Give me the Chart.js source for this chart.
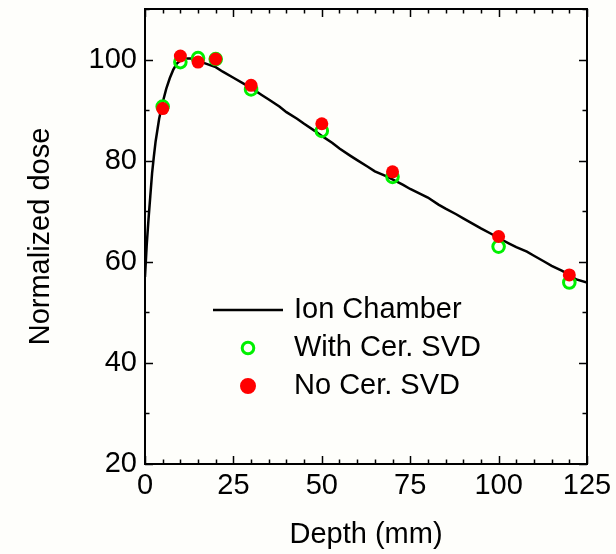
<!DOCTYPE html>
<html>
<head>
<meta charset="utf-8">
<script src="https://cdn.jsdelivr.net/npm/chart.js@4/dist/chart.umd.min.js"></script>
<style>
    html, body { margin: 0; padding: 0; background: #fefefb; }
    .dose-chart { position: relative; width: 616px; height: 554px; }
</style>
</head>
<body>
<div class="dose-chart"><canvas id="myChart" width="616" height="554"></canvas></div>
<script>
'use strict'

// ion chamber depth dose curve
const chamberDepth = [0, 0.5, 1, 1.5, 2, 2.5, 3, 4, 5, 6, 7, 8, 9, 10, 11, 12, 13, 14, 15, 16, 18, 20, 22, 25,
    28, 30, 33, 35, 38, 40, 43, 45, 48, 50, 53, 55, 58, 60, 63, 65, 68, 70, 73, 75, 78, 80, 83, 85, 88, 90,
    93, 95, 98, 100, 103, 105, 108, 110, 113, 115, 118, 120, 122, 125]
const chamberDose = [57.0, 63.5, 68.5, 73.0, 77.5, 80.8, 83.8, 88.3, 91.5, 94.2, 96.3, 98.0, 99.2, 99.8, 100.1, 100.2, 100.2, 100.0, 99.8, 99.5, 99.0, 98.5, 97.6, 96.4,
    95.2, 94.4, 93.0, 92.1, 90.7, 89.6, 88.3, 87.3, 85.9, 84.9, 83.5, 82.4, 81.0, 80.1, 78.8, 77.9, 77.0, 76.3, 75.2, 74.4, 73.4, 72.7, 71.3, 70.5, 69.4, 68.6,
    67.4, 66.6, 65.5, 64.7, 63.6, 62.9, 62.0, 61.2, 60.0, 59.2, 58.2, 57.4, 56.5, 55.9]

// detector points
const svdDepth = [5, 10, 15, 20, 30, 50, 70, 100, 120]
const withCerDose = [90.7, 99.5, 100.3, 100.1, 94.1, 85.9, 76.8, 63.0, 55.9]
const noCerDose = [90.3, 100.7, 99.5, 100.1, 94.9, 87.3, 77.8, 65.0, 57.4]

const seriesNames = ['Ion Chamber', 'With Cer. SVD', 'No Cer. SVD']
const xTicks = [0, 25, 50, 75, 100, 125]
const yTicks = [20, 40, 60, 80, 100]

const FONT = 'Liberation Sans, Arial, Helvetica, sans-serif'


document.addEventListener("DOMContentLoaded", () => {
    Diagramm()
})


function toPoints(xs, ys) {
    return xs.map((x, i) => ({ x: x, y: ys[i] }))
}

// frame with inward ticks on all four sides
const framePlugin = {
    id: 'frame',
    afterDatasetsDraw(chart) {
        const { ctx, chartArea: a, scales } = chart
        ctx.save()
        ctx.strokeStyle = '#000'
        ctx.lineWidth = 1.5
        ctx.beginPath()
        for (let v = 0; v <= 125; v += 5) {
            const px = Math.round(scales.x.getPixelForValue(v)) + 0.5
            const len = v % 25 === 0 ? 8 : 4.5
            ctx.moveTo(px, a.bottom); ctx.lineTo(px, a.bottom - len)
            ctx.moveTo(px, a.top); ctx.lineTo(px, a.top + len)
        }
        for (let v = 20; v <= 110; v += 10) {
            const py = Math.round(scales.y.getPixelForValue(v)) + 0.5
            const len = v % 20 === 0 ? 8 : 4.5
            ctx.moveTo(a.left, py); ctx.lineTo(a.left + len, py)
            ctx.moveTo(a.right, py); ctx.lineTo(a.right - len, py)
        }
        ctx.stroke()
        ctx.lineWidth = 2
        ctx.strokeRect(a.left, a.top, a.right - a.left, a.bottom - a.top)
        ctx.restore()
    }
}

// legend inside the plot
const legendPlugin = {
    id: 'innerLegend',
    afterDatasetsDraw(chart) {
        const ctx = chart.ctx
        const ds = chart.data.datasets
        const x0 = 213, x1 = 283, tx = 294
        const rows = [310, 348, 386]
        ctx.save()
        ctx.font = '29px ' + FONT
        ctx.textBaseline = 'middle'
        ctx.fillStyle = '#000'
        ds.forEach((d, i) => {
            const y = rows[i]
            if (d.showLine) {
                ctx.strokeStyle = d.borderColor
                ctx.lineWidth = d.borderWidth
                ctx.beginPath()
                ctx.moveTo(x0, y); ctx.lineTo(x1, y)
                ctx.stroke()
            } else {
                ctx.beginPath()
                ctx.arc((x0 + x1) / 2, y, d.pointRadius, 0, Math.PI * 2)
                ctx.fillStyle = d.pointBackgroundColor
                ctx.fill()
                ctx.lineWidth = d.pointBorderWidth
                ctx.strokeStyle = d.pointBorderColor
                ctx.stroke()
            }
            ctx.fillStyle = '#000'
            ctx.fillText(d.label, tx, y)
        })
        ctx.restore()
    }
}

function Diagramm() {
    const ctx = document.getElementById('myChart').getContext('2d')

    const chart = new Chart(ctx, {
        type: 'scatter',
        data: {
            datasets: [{
                label: seriesNames[0],
                data: toPoints(chamberDepth, chamberDose),
                showLine: true,
                borderColor: '#000',
                borderWidth: 2.5,
                pointRadius: 0,
                tension: 0,
                order: 3
            }, {
                label: seriesNames[1],
                data: toPoints(svdDepth, withCerDose),
                showLine: false,
                pointRadius: 5.8,
                pointBackgroundColor: 'rgba(0,0,0,0)',
                pointBorderColor: '#00f000',
                pointBorderWidth: 3,
                order: 2
            }, {
                label: seriesNames[2],
                data: toPoints(svdDepth, noCerDose),
                showLine: false,
                pointRadius: 6.5,
                pointBackgroundColor: '#ff0000',
                pointBorderColor: '#ff0000',
                pointBorderWidth: 0,
                order: 1
            }]
        },
        options: {
            responsive: false,
            animation: false,
            layout: { padding: { top: 9, right: 29, left: 0, bottom: 0 } },
            plugins: { legend: { display: false }, tooltip: { enabled: false } },
            scales: {
                x: {
                    type: 'linear',
                    min: 0,
                    max: 125,
                    afterBuildTicks: s => { s.ticks = xTicks.map(v => ({ value: v })) },
                    afterFit: s => { s.height = 90; s.paddingLeft = 0; s.paddingRight = 0 },
                    grid: { display: false, drawTicks: false },
                    border: { display: false },
                    ticks: { color: '#000', padding: 5, maxRotation: 0, font: { family: FONT, size: 29 } },
                    title: {
                        display: true,
                        text: 'Depth (mm)',
                        color: '#000',
                        padding: { top: 0, bottom: 2 },
                        font: { family: FONT, size: 29 }
                    }
                },
                y: {
                    type: 'linear',
                    min: 20,
                    max: 110,
                    afterBuildTicks: s => { s.ticks = yTicks.map(v => ({ value: v })) },
                    afterFit: s => { s.width = 145; s.paddingTop = 0; s.paddingBottom = 0 },
                    grid: { display: false, drawTicks: false },
                    border: { display: false },
                    ticks: { color: '#000', padding: 8, font: { family: FONT, size: 29 } },
                    title: {
                        display: true,
                        text: 'Normalized dose',
                        color: '#000',
                        padding: { top: 24, bottom: 0 },
                        font: { family: FONT, size: 29 }
                    }
                }
            }
        },
        plugins: [framePlugin, legendPlugin]
    });
    chart.update();
}
</script>
</body>
</html>
